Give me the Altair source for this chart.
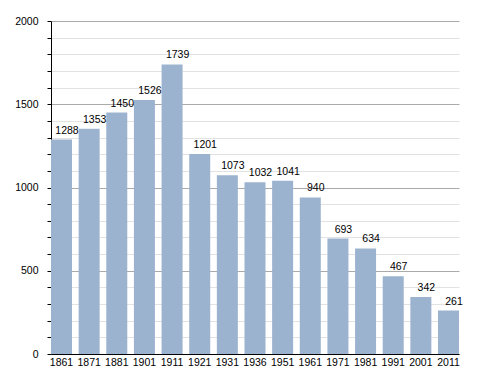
import altair as alt
import pandas as pd

years = ["1861", "1871", "1881", "1901", "1911", "1921", "1931", "1936",
         "1951", "1961", "1971", "1981", "1991", "2001", "2011"]
population = [1288, 1353, 1450, 1526, 1739, 1201, 1073, 1032, 1041, 940,
              693, 634, 467, 342, 261]
tick_values = list(range(0, 2001, 100))

df = pd.DataFrame({"year": years, "pop": population})

x = alt.X("year:N", sort=years, title=None,
          scale=alt.Scale(paddingInner=0.24, paddingOuter=0),
          axis=alt.Axis(labelAngle=0, ticks=False, domainColor="#000",
                        labelColor="#000", labelFontSize=10.5,
                        labelFont="Liberation Sans", labelPadding=3))

y = alt.Y("pop:Q", title=None,
          scale=alt.Scale(domain=[0, 2000], nice=False),
          axis=alt.Axis(values=tick_values, domainColor="#000",
                        tickColor="#000", tickSize=4,
                        gridColor={"condition": {"test": "datum.value % 500 === 0", "value": "#aaaaaa"},
                                   "value": "#e2e2e2"},
                        labelExpr="datum.value % 500 === 0 ? datum.label : ''",
                        labelColor="#000", labelFontSize=10.5,
                        labelFont="Liberation Sans", labelPadding=9,
                        format="d"))

base = alt.Chart(df).encode(x=x, y=y)
bars = base.mark_bar(color="#9bb3cf")
labels = base.mark_text(baseline="bottom", dy=-4, dx=5.5,
                        fontSize=10.5, font="Liberation Sans",
                        color="#000").encode(text="pop:Q")

chart = (bars + labels).properties(
    width=408, height=333,
    autosize=alt.AutoSizeParams(type="none"),
    padding={"left": 43, "top": 13, "right": 21, "bottom": 12},
).configure_view(stroke=None).configure_axis(gridWidth=1)

chart.save("out.html", embed_options={"renderer": "svg", "actions": False})
